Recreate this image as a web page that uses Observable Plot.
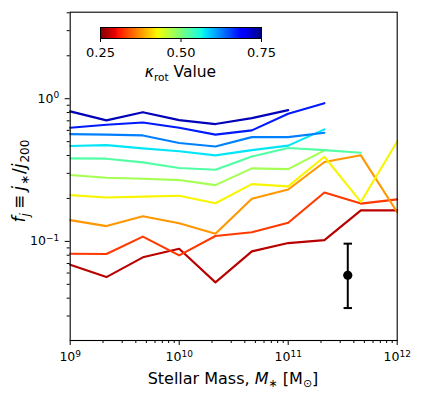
<!DOCTYPE html>
<html>
<head>
<meta charset="utf-8">
<script src="https://cdn.jsdelivr.net/npm/d3@7"></script>
<script src="https://cdn.jsdelivr.net/npm/@observablehq/plot@0.6"></script>
<style>
  body { margin: 0; background: white; }
  #wrap { position: relative; width: 436px; height: 397px; font-family: "DejaVu Sans", sans-serif; }
  #wrap svg { position: absolute; }
  #cblabel { position: absolute; font-size: 15.5px; color: black; white-space: nowrap; transform: translate(-50%, -50%); }
</style>
</head>
<body>
<div id="wrap"></div>
<script>
// ---- data ----
const mass = [1e9, 2.15e9, 4.64e9, 1e10, 2.15e10, 4.64e10, 1e11, 2.15e11, 4.64e11, 1e12];
const kappaBins = [0.275, 0.325, 0.375, 0.425, 0.475, 0.525, 0.575, 0.625, 0.675, 0.725];
const fj_275 = [0.0687, 0.0562, 0.0773, 0.0889, 0.0516, 0.0851, 0.0973, 0.102, 0.165, 0.165];
const fj_325 = [0.0819, 0.0815, 0.108, 0.0798, 0.109, 0.116, 0.135, 0.22, 0.184, 0.197];
const fj_375 = [0.141, 0.128, 0.150, 0.134, 0.113, 0.199, 0.231, 0.36, 0.401, 0.160];
const fj_425 = [0.211, 0.203, 0.206, 0.209, 0.185, 0.252, 0.243, 0.392, 0.189, 0.502];
const fj_475 = [0.292, 0.279, 0.275, 0.269, 0.248, 0.325, 0.321, 0.434, null, null];
const fj_525 = [0.382, 0.380, 0.358, 0.327, 0.318, 0.394, 0.451, 0.436, 0.418, null];
const fj_575 = [0.466, 0.473, 0.449, 0.428, 0.401, 0.436, 0.469, 0.61, null, null];
const fj_625 = [0.565, 0.560, 0.553, 0.489, 0.463, 0.538, 0.538, 0.578, null, null];
const fj_675 = [0.626, 0.657, 0.682, 0.626, 0.560, 0.600, 0.785, 0.931, null, null];
const fj_725 = [0.815, 0.705, 0.805, 0.708, 0.664, 0.731, 0.832, null, null, null];
const series = [fj_275, fj_325, fj_375, fj_425, fj_475, fj_525, fj_575, fj_625, fj_675, fj_725];
// representative error bar
const errMass = [3.52e11];
const errMid = [0.0578];
const errLo = [0.0341];
const errHi = [0.0964];
// ticks
const xMajor = [1e9, 1e10, 1e11, 1e12];
const yMajor = [0.1, 1];
const cbTicks = [0.25, 0.5, 0.75];
const kappaRange = [0.25, 0.75];

// ---- jet colormap (matplotlib), reversed ----
const jr = d3.scaleLinear().domain([0, 0.35, 0.66, 0.89, 1]).range([0, 0, 1, 1, 0.5]).clamp(true);
const jg = d3.scaleLinear().domain([0, 0.125, 0.375, 0.64, 0.91, 1]).range([0, 0, 1, 1, 0, 0]).clamp(true);
const jb = d3.scaleLinear().domain([0, 0.11, 0.34, 0.65, 1]).range([0.5, 1, 1, 0, 0]).clamp(true);
function jet(t) { return d3.rgb(jr(t) * 255, jg(t) * 255, jb(t) * 255).formatHex(); }
function kappaColor(k) { return jet(1 - (k - kappaRange[0]) / (kappaRange[1] - kappaRange[0])); }

const rows = [];
series.forEach((vals, i) => vals.forEach((v, j) => { if (v != null) rows.push({kappa: kappaBins[i], mass: mass[j], f: v}); }));

const minorOf = (lo, hi) => { const out = []; for (let e = lo; e < hi; e++) for (let m = 2; m <= 9; m++) out.push(m * Math.pow(10, e)); return out; };
const xMinor = minorOf(9, 12);
const yMinor = minorOf(-2, 1).filter(v => v >= 0.0202 && v <= 4.04);
const err = errMass.map((m, i) => ({mass: m, mid: errMid[i], lo: errLo[i], hi: errHi[i]}));
const capSymbol = { draw(ctx, size) { ctx.moveTo(-4.2, 0); ctx.lineTo(4.2, 0); } };
const powFmt = d => "10^" + Math.round(Math.log10(d));

const chart = Plot.plot({
  width: 436, height: 397,
  marginLeft: 69.7, marginRight: 39.3, marginTop: 11.7, marginBottom: 57,
  style: { fontFamily: "DejaVu Sans", fontSize: "12px", color: "black", background: "white", overflow: "visible" },
  x: { type: "log", domain: [1e9, 1e12] },
  y: { type: "log", domain: [0.0202, 4.04] },
  marks: [
    Plot.axisX({ ticks: xMinor, tickSize: 3, tickFormat: () => "", label: null }),
    Plot.axisX({ ticks: xMajor, tickSize: 5, tickPadding: 7, tickFormat: powFmt, label: null, fontSize: 12.5 }),
    Plot.axisY({ ticks: yMinor, tickSize: 3, tickFormat: () => "", label: null }),
    Plot.axisY({ ticks: yMajor, tickSize: 5, tickPadding: 6, tickFormat: powFmt, label: null, fontSize: 12.5 }),
    Plot.line(rows, { x: "mass", y: "f", z: "kappa", stroke: d => kappaColor(d.kappa), strokeWidth: 2.1 }),
    Plot.ruleX(err, { x: "mass", y1: "lo", y2: "hi", stroke: "black", strokeWidth: 2 }),
    Plot.dot(err, { x: "mass", y: "lo", symbol: capSymbol, stroke: "black", strokeWidth: 2, r: 4 }),
    Plot.dot(err, { x: "mass", y: "hi", symbol: capSymbol, stroke: "black", strokeWidth: 2, r: 4 }),
    Plot.dot(err, { x: "mass", y: "mid", r: 4.6, fill: "black" }),
    Plot.frame({ stroke: "black", strokeWidth: 1.1 })
  ]
});

// superscript exponents in tick labels
d3.select(chart).selectAll("text").each(function () {
  const t = this.textContent;
  if (t.startsWith("10^")) {
    const exp = t.slice(3).replace("-", "\u2212");
    const s = d3.select(this);
    s.text("10");
    s.append("tspan").attr("dy", "-0.5em").attr("font-size", "0.72em").text(exp);
  }
});

const svg = d3.select(chart);
// x label
const xl = svg.append("text").attr("x", 233).attr("y", 384).attr("text-anchor", "middle")
  .attr("font-size", 16).attr("fill", "black").attr("font-family", "DejaVu Sans");
xl.append("tspan").text("Stellar Mass, ");
xl.append("tspan").attr("font-style", "italic").text("M");
xl.append("tspan").attr("dy", 3).attr("font-size", 11).text("\u2217");
xl.append("tspan").attr("dy", -3).text(" [M");
xl.append("tspan").attr("dy", 3).attr("font-size", 11).text("\u2299");
xl.append("tspan").attr("dy", -3).text("]");
// y label
const yl = svg.append("text").attr("transform", "translate(25,181) rotate(-90)").attr("text-anchor", "middle")
  .attr("font-size", 17).attr("fill", "black").attr("font-family", "DejaVu Sans");
yl.append("tspan").attr("font-style", "italic").text("f");
yl.append("tspan").attr("dy", 3.5).attr("font-size", 12).attr("font-style", "italic").text("j");
yl.append("tspan").attr("dy", -3.5).attr("dx", 4).text("\u2261");
yl.append("tspan").attr("dx", 4).attr("font-style", "italic").text("j");
yl.append("tspan").attr("dy", 3.5).attr("dx", 1).attr("font-size", 12).text("\u2217");
yl.append("tspan").attr("dy", -3.5).attr("dx", 1).text("/");
yl.append("tspan").attr("font-style", "italic").text("j");
yl.append("tspan").attr("dy", 3.5).attr("dx", 1).attr("font-size", 12).text("200");

chart.style.left = "0px"; chart.style.top = "0px";
const wrap = document.getElementById("wrap");
wrap.appendChild(chart);

// ---- colorbar ----
const nSteps = 161;
const cbSteps = d3.range(nSteps).map(i => kappaRange[0] + i * (kappaRange[1] - kappaRange[0]) / nSteps);
const cbW = (kappaRange[1] - kappaRange[0]) / nSteps;
const cb = Plot.plot({
  width: 201, height: 42,
  marginLeft: 20, marginRight: 20, marginTop: 2, marginBottom: 29,
  style: { fontFamily: "DejaVu Sans", fontSize: "13px", color: "black", background: "transparent", overflow: "visible" },
  x: { domain: kappaRange },
  y: { domain: [0, 1], axis: null },
  marks: [
    Plot.rect(cbSteps, { x1: d => d, x2: d => d + cbW, y1: 0, y2: 1, fill: d => kappaColor(d), shapeRendering: "crispEdges" }),
    Plot.frame({ stroke: "black", strokeWidth: 1 }),
    Plot.axisX({ ticks: cbTicks, tickSize: 4, tickPadding: 5, tickFormat: d3.format(".2f"), label: null })
  ]
});
cb.style.left = "80px"; cb.style.top = "25.3px";
wrap.appendChild(cb);

const lab = document.createElement("div");
lab.id = "cblabel";
lab.innerHTML = '<i>\u03ba</i><sub style="font-size:10.5px">rot</sub> Value';
lab.style.left = "180.5px"; lab.style.top = "73px";
wrap.appendChild(lab);
</script>
</body>
</html>
